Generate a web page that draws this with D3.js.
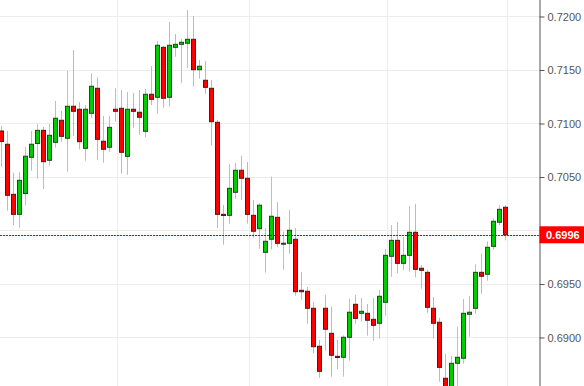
<!DOCTYPE html>
<html>
<head>
<meta charset="utf-8">
<script src="https://d3js.org/d3.v7.min.js"></script>
<style>
  body { margin: 0; background: #fff; }
  svg { display: block; }
</style>
</head>
<body>
<svg id="chart" width="584" height="386"></svg>
<script>
  // candle data (oldest first)
  const opens = [0.70930, 0.70806, 0.70338, 0.70151, 0.70346, 0.70684, 0.70813, 0.70936, 0.70656, 0.70824,
    0.71030, 0.70862, 0.71161, 0.71133, 0.70768, 0.71095, 0.71329, 0.70834, 0.70778, 0.71133,
    0.71142, 0.70693, 0.71133, 0.71105, 0.70927, 0.71273, 0.71245, 0.71712, 0.71245, 0.71712,
    0.71740, 0.71750, 0.71787, 0.71503, 0.71404, 0.71329, 0.71011, 0.70151, 0.70142, 0.70357,
    0.70563, 0.70488, 0.70142, 0.70017, 0.69796, 0.69918, 0.70123, 0.69880, 0.69880, 0.69918,
    0.69441, 0.69432, 0.69273, 0.68918, 0.69273, 0.69039, 0.68824, 0.68815, 0.69002, 0.69310,
    0.69226, 0.69226, 0.69170, 0.69133, 0.69329, 0.69759, 0.69908, 0.69693, 0.69768, 0.69983,
    0.69647, 0.69609, 0.69273, 0.69142, 0.68619, 0.68500, 0.68759, 0.68806, 0.69217, 0.69273,
    0.69609, 0.69591, 0.69852, 0.70077, 0.70217];
  const closes = [0.70832, 0.70329, 0.70151, 0.70469, 0.70694, 0.70806, 0.70936, 0.70643, 0.70890, 0.71049,
    0.70880, 0.71161, 0.71114, 0.70830, 0.71133, 0.71348, 0.70852, 0.70759, 0.70964, 0.71114,
    0.70731, 0.71133, 0.71114, 0.71058, 0.71273, 0.71226, 0.71731, 0.71236, 0.71731, 0.71740,
    0.71759, 0.71787, 0.71503, 0.71535, 0.71338, 0.71017, 0.70151, 0.70140, 0.70394, 0.70563,
    0.70488, 0.70151, 0.69993, 0.70236, 0.69899, 0.70133, 0.69880, 0.69881, 0.70002, 0.69428,
    0.69428, 0.69273, 0.68914, 0.68684, 0.69077, 0.68834, 0.68813, 0.69002, 0.69236, 0.69179,
    0.69245, 0.69161, 0.69114, 0.69385, 0.69768, 0.69908, 0.69693, 0.69768, 0.69983, 0.69637,
    0.69628, 0.69282, 0.69133, 0.68721, 0.68491, 0.68759, 0.68815, 0.69226, 0.69236, 0.69609,
    0.69572, 0.69843, 0.70086, 0.70198, 0.69960];
  const highs = [0.70977, 0.70930, 0.70540, 0.70544, 0.70780, 0.70930, 0.70993, 0.70967, 0.70995, 0.71210,
    0.71117, 0.71491, 0.71687, 0.71201, 0.71173, 0.71469, 0.71432, 0.71070, 0.71070, 0.71329,
    0.71313, 0.71294, 0.71285, 0.71313, 0.71322, 0.71537, 0.71771, 0.71724, 0.71949, 0.71836,
    0.71790, 0.72061, 0.72005, 0.71593, 0.71584, 0.71407, 0.71033, 0.70238, 0.70621, 0.70631,
    0.70699, 0.70640, 0.70285, 0.70254, 0.70023, 0.70503, 0.70266, 0.69989, 0.70192, 0.70023,
    0.69612, 0.69472, 0.69332, 0.68977, 0.69397, 0.69288, 0.68977, 0.69019, 0.69360, 0.69397,
    0.69369, 0.69313, 0.69369, 0.69444, 0.69827, 0.70051, 0.70079, 0.69939, 0.70229, 0.70248,
    0.69678, 0.69634, 0.69379, 0.69185, 0.68849, 0.68827, 0.69101, 0.69360, 0.69388, 0.69684,
    0.69787, 0.69899, 0.70114, 0.70238, 0.70236];
  const lows = [0.70596, 0.70185, 0.70051, 0.70026, 0.70238, 0.70559, 0.70484, 0.70388, 0.70606, 0.70774,
    0.70830, 0.70550, 0.70883, 0.70759, 0.70652, 0.71054, 0.70659, 0.70634, 0.70736, 0.71017,
    0.70531, 0.70521, 0.70961, 0.70895, 0.70871, 0.71173, 0.71092, 0.71148, 0.71157, 0.71624,
    0.71376, 0.71521, 0.71344, 0.71419, 0.71276, 0.70793, 0.70023, 0.69867, 0.70064, 0.70294,
    0.70288, 0.70064, 0.69933, 0.69830, 0.69606, 0.69824, 0.69843, 0.69634, 0.69783, 0.69391,
    0.69353, 0.69129, 0.68852, 0.68624, 0.68877, 0.68634, 0.68703, 0.68634, 0.68783, 0.69129,
    0.69148, 0.69017, 0.68970, 0.68989, 0.69204, 0.69568, 0.69600, 0.69631, 0.69615, 0.69563,
    0.69456, 0.69232, 0.68989, 0.68587, 0.68416, 0.68444, 0.68491, 0.68755, 0.69007, 0.69222,
    0.69409, 0.69531, 0.69821, 0.70051, 0.69908];

  const yTicks = [0.6900, 0.6950, 0.7000, 0.7050, 0.7100, 0.7150, 0.7200];
  const yTickLabels = ["0.6900", "0.6950", "", "0.7050", "0.7100", "0.7150", "0.7200"];
  const dayBreaks = [19.3, 41.2, 64.2, 84.2]; // vertical grid, in candle-index units
  const lastPrice = 0.6996;

  const W = 584, H = 386, axisX = 539.5;
  const svg = d3.select("#chart");

  const candles = opens.map((o, i) => ({ i: i, o: o, c: closes[i], h: highs[i], l: lows[i] }));

  const x = d3.scaleLinear().domain([0, opens.length - 1]).range([1.5, 505.5]);
  const y = d3.scaleLinear().domain([0.685467, 0.721542]).range([H, 0]);

  // grid
  svg.append("g").selectAll("line").data(yTicks).join("line")
    .attr("x1", 0).attr("x2", axisX)
    .attr("y1", d => Math.round(y(d)) + 0.5).attr("y2", d => Math.round(y(d)) + 0.5)
    .attr("stroke", "#ececec");
  svg.append("g").selectAll("line").data(dayBreaks).join("line")
    .attr("x1", d => Math.round(x(d)) + 0.5).attr("x2", d => Math.round(x(d)) + 0.5)
    .attr("y1", 0).attr("y2", H)
    .attr("stroke", "#ececec");

  // wicks
  svg.append("g").selectAll("line").data(candles).join("line")
    .attr("x1", d => x(d.i)).attr("x2", d => x(d.i))
    .attr("y1", d => y(d.h)).attr("y2", d => y(d.l))
    .attr("stroke", d => d.c >= d.o ? "#a8c6cb" : "#eda5ad")
    .attr("stroke-width", 1);

  // bodies
  svg.append("g").selectAll("rect").data(candles).join("rect")
    .attr("x", d => x(d.i) - 2)
    .attr("width", 4)
    .attr("y", d => y(Math.max(d.o, d.c)))
    .attr("height", d => Math.max(1, Math.abs(y(d.o) - y(d.c))))
    .attr("fill", d => d.c >= d.o ? "#00cc00" : "#ff0000")
    .attr("stroke", d => d.c >= d.o ? "#224422" : "#551515")
    .attr("stroke-width", 1);

  // last price line
  svg.append("line")
    .attr("x1", 0).attr("x2", axisX)
    .attr("y1", Math.round(y(lastPrice)) + 0.5).attr("y2", Math.round(y(lastPrice)) + 0.5)
    .attr("stroke", "#d40000")
    .attr("stroke-dasharray", "2,1");

  // right axis
  const axis = d3.axisRight(y).tickValues(yTicks).tickSize(5).tickPadding(3)
    .tickFormat((d, k) => yTickLabels[k]);
  const gAxis = svg.append("g").attr("transform", `translate(${axisX},0)`).call(axis);
  gAxis.select(".domain").attr("stroke", "#555").attr("d", `M0.5,0V${H}`);
  gAxis.selectAll(".tick line").attr("stroke", "#555");
  gAxis.selectAll(".tick text")
    .attr("fill", "#555")
    .style("font-family", "Arial, 'Liberation Sans', sans-serif")
    .style("font-size", "11px");

  // last price tag
  const ly = y(lastPrice);
  svg.append("rect")
    .attr("x", axisX).attr("y", ly - 8.5)
    .attr("width", W - axisX).attr("height", 17)
    .attr("fill", "#ff0000");
  svg.append("text")
    .attr("x", 546).attr("y", ly)
    .attr("dy", "0.35em")
    .attr("fill", "#fff")
    .style("font-family", "Arial, 'Liberation Sans', sans-serif")
    .style("font-size", "11px")
    .style("font-weight", "bold")
    .text(d3.format(".4f")(lastPrice));
</script>
</body>
</html>
